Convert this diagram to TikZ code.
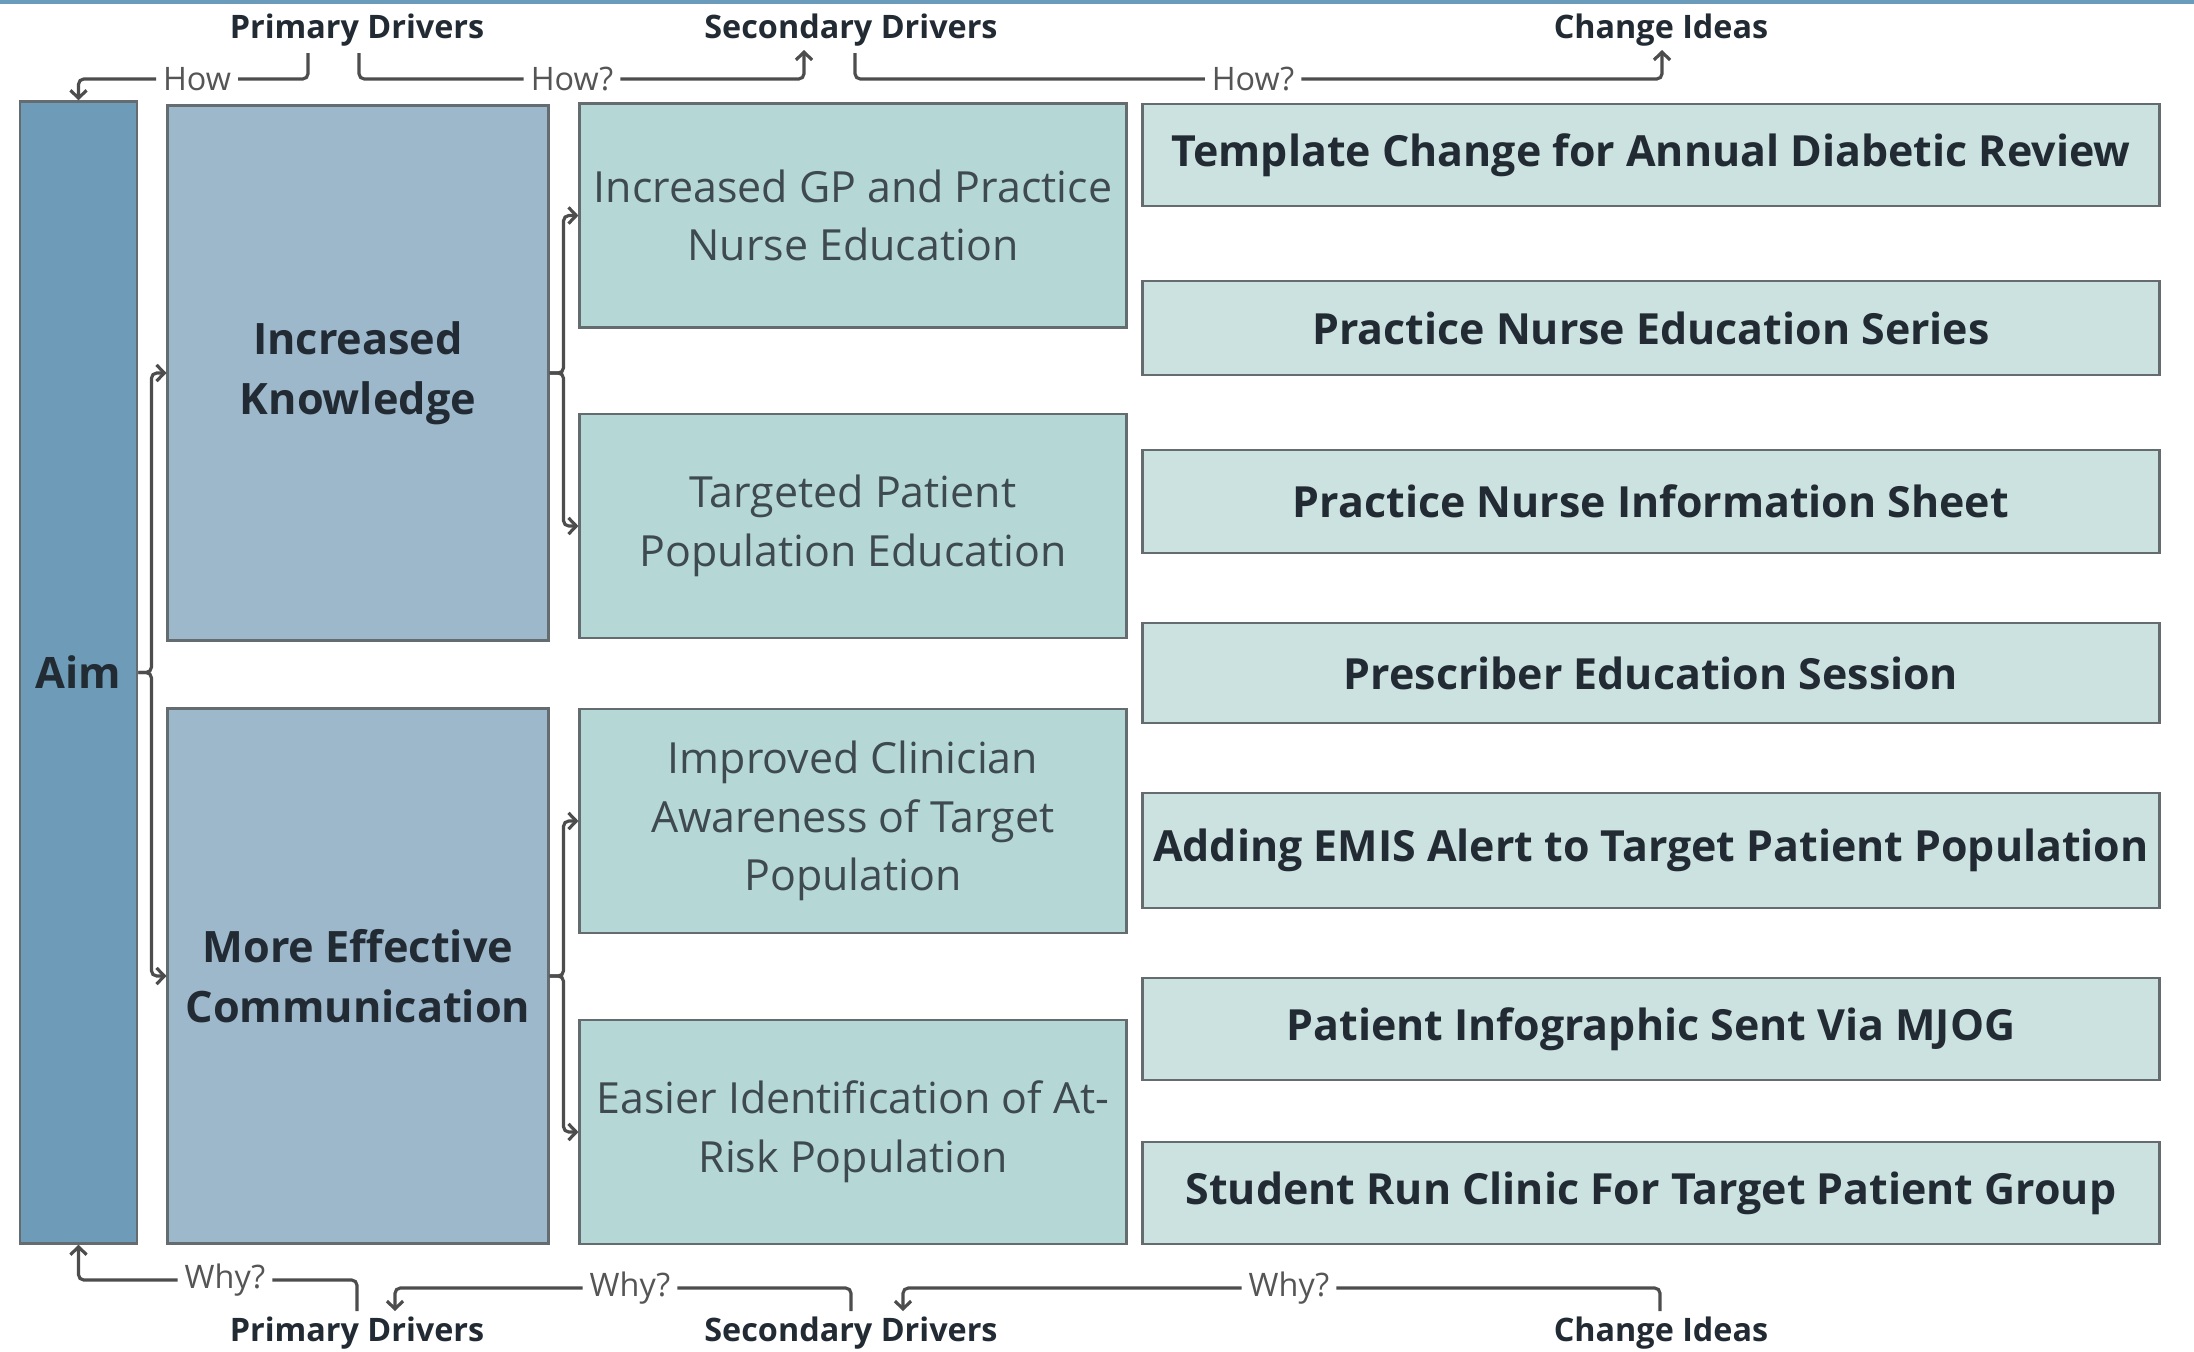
\documentclass[tikz,border=0pt]{standalone}
\usepackage{fontspec}
\setmainfont{Open Sans}
\usetikzlibrary{arrows.meta}

\definecolor{aimfill}{HTML}{6E9CB8}
\definecolor{primfill}{HTML}{9DB8CB}
\definecolor{secfill}{HTML}{B5D8D7}
\definecolor{ideafill}{HTML}{CBE2E0}
\definecolor{boxline}{HTML}{646C6F}
\definecolor{linec}{HTML}{4D4D4D}
\definecolor{darktext}{HTML}{222B33}
\definecolor{sectext}{HTML}{3E4A50}
\definecolor{cuetext}{HTML}{555555}
\definecolor{topbar}{HTML}{6A9BBB}

\begin{document}
\begin{tikzpicture}[x=0.01cm,y=-0.01cm,
  box/.style={draw=boxline,line width=0.8pt,inner sep=0pt,align=center},
  aimbox/.style={box,fill=aimfill,text=darktext,minimum width=1.17cm,minimum height=11.41cm,
    font=\bfseries\fontsize{12.3}{17}\selectfont},
  primbox/.style={box,fill=primfill,text=darktext,minimum width=3.8cm,minimum height=5.34cm,
    font=\bfseries\fontsize{12.3}{17}\selectfont},
  secbox/.style={box,fill=secfill,text=sectext,minimum width=5.46cm,minimum height=2.24cm,
    font=\fontsize{12.2}{16.7}\selectfont},
  ideabox/.style={box,fill=ideafill,text=darktext,minimum width=10.16cm,
    font=\bfseries\fontsize{12.2}{14}\selectfont},
  header/.style={text=darktext,inner sep=0pt,font=\bfseries\fontsize{9.2}{11}\selectfont},
  cue/.style={text=cuetext,inner sep=1.8pt,font=\fontsize{9.2}{11}\selectfont},
  conn/.style={draw=linec,line width=0.9pt,rounded corners=1.5pt},
  >={Straight Barb[length=2.2pt,width=4.6pt]}]

\useasboundingbox (0,0) rectangle (2194,1351);
\clip (0,0) rectangle (2194,1351);
\fill[white] (0,0) rectangle (2194,1351);
\fill[topbar] (0,0) rectangle (2194,4);

% aim and primary drivers
\node[aimbox] (aim) at (78.5,672.5) {Aim};
\node[primbox] (p1) at (358,373) {Increased\\Knowledge};
\node[primbox] (p2) at (358,976) {More Effective\\Communication};

% secondary drivers
\node[secbox] (s1) at (853,215.5) {Increased GP and Practice\\Nurse Education};
\node[secbox] (s2) at (853,526) {Targeted Patient\\Population Education};
\node[secbox] (s3) at (853,821) {Improved Clinician\\Awareness of Target\\Population};
\node[secbox] (s4) at (853,1132) {Easier Identification of At-\\Risk Population};

% change ideas
\node[ideabox,minimum height=1.02cm] (c1) at (1651,155) {Template Change for Annual Diabetic Review};
\node[ideabox,minimum height=0.94cm] (c2) at (1651,328) {Practice Nurse Education Series};
\node[ideabox,minimum height=1.03cm] (c3) at (1651,501.5) {Practice Nurse Information Sheet};
\node[ideabox,minimum height=1.00cm] (c4) at (1651,673) {Prescriber Education Session};
\node[ideabox,minimum height=1.15cm] (c5) at (1651,850.5) {Adding EMIS Alert to Target Patient Population};
\node[ideabox,minimum height=1.02cm] (c6) at (1651,1029) {Patient Infographic Sent Via MJOG};
\node[ideabox,minimum height=1.02cm] (c7) at (1651,1193) {Student Run Clinic For Target Patient Group};

% column headings
\node[header] (ptop) at (357,30) {Primary Drivers};
\node[header] (stop) at (851,30) {Secondary Drivers};
\node[header] (ctop) at (1661,30) {Change Ideas};
\node[header] (pbot) at (357,1333) {Primary Drivers};
\node[header] (sbot) at (851,1333) {Secondary Drivers};
\node[header] (cbot) at (1661,1333) {Change Ideas};

% how / why cues
\node[cue] (hw1) at (197,79) {How};
\node[cue] (hw2) at (572,79) {How?};
\node[cue] (hw3) at (1253,79) {How?};
\node[cue] (wy1) at (225,1280) {Why?};
\node[cue] (wy2) at (630,1288) {Why?};
\node[cue] (wy3) at (1289,1288) {Why?};

% free ends of the cue lines
\coordinate (t1) at (308,53);
\coordinate (t2) at (359,53);
\coordinate (t3) at (804,50);
\coordinate (t4) at (855,53);
\coordinate (t5) at (1662,50);
\coordinate (b1) at (357,1311);
\coordinate (b2) at (851,1311);
\coordinate (b3) at (395,1311);
\coordinate (b4) at (1660,1311);
\coordinate (b5) at (903,1311);

% top "How?" lines
\draw[conn] (t1) |- (hw1.east);
\draw[conn,->] (hw1.west) -| (aim.north);
\draw[conn] (t2) |- (hw2.west);
\draw[conn,->] (hw2.east) -| (t3);
\draw[conn] (t4) |- (hw3.west);
\draw[conn,->] (hw3.east) -| (t5);

% bottom "Why?" lines
\draw[conn,->] (wy1.west) -| (aim.south);
\draw[conn] (wy1.east) -| (b1);
\draw[conn] (b2) |- (wy2.east);
\draw[conn,->] (wy2.west) -| (b3);
\draw[conn] (b4) |- (wy3.east);
\draw[conn,->] (wy3.west) -| (b5);

% aim to primary drivers
\draw[conn,->] (aim.east) -- ++(13,0) |- (p1.west);
\draw[conn,->] (aim.east) -- ++(13,0) |- (p2.west);

% primary to secondary drivers
\draw[conn,->] (p1.east) -- ++(14,0) |- (s1.west);
\draw[conn,->] (p1.east) -- ++(14,0) |- (s2.west);
\draw[conn,->] (p2.east) -- ++(14,0) |- (s3.west);
\draw[conn,->] (p2.east) -- ++(14,0) |- (s4.west);
\end{tikzpicture}
\end{document}
